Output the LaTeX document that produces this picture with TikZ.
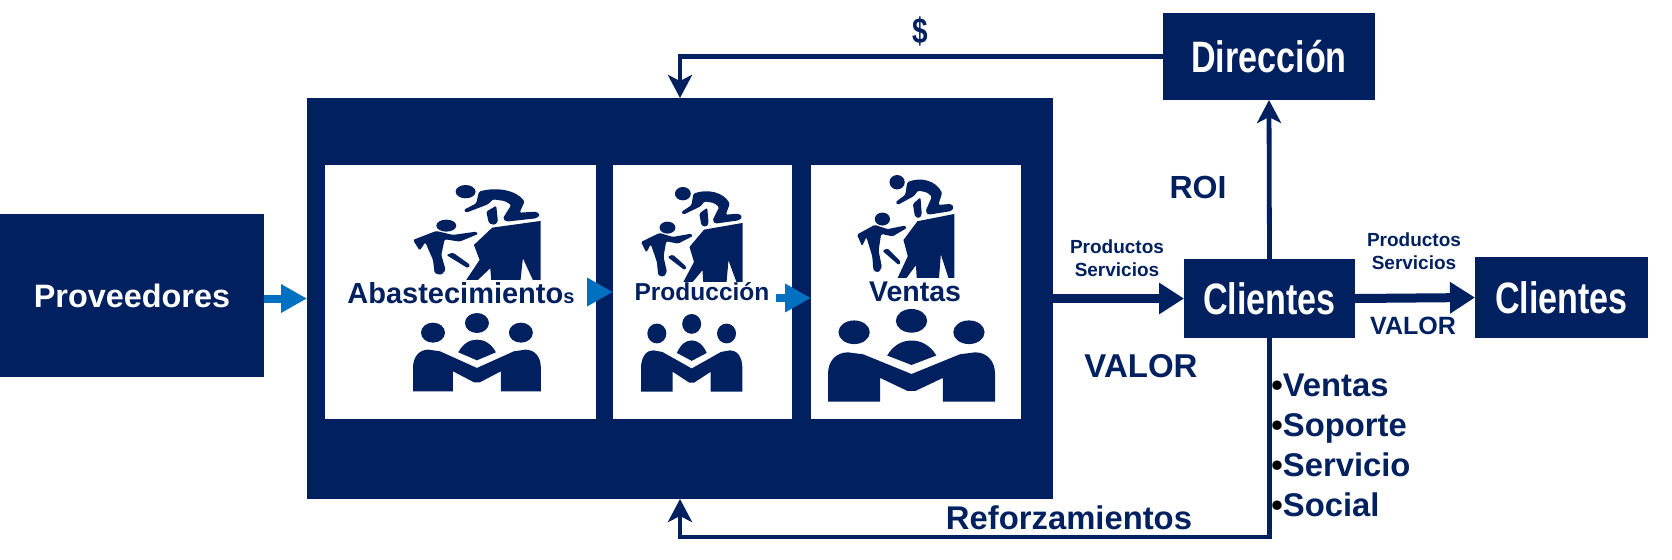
\documentclass[tikz,border=0pt]{standalone}
\usepackage{fontspec}
\setsansfont{Liberation Sans}
\newfontfamily\estrecha[FakeStretch=0.775]{Liberation Sans}
\usetikzlibrary{arrows.meta}
\definecolor{navy}{HTML}{002060}
\definecolor{azul}{HTML}{0070C0}
\tikzset{
    caja/.style={fill=navy, text=white, inner sep=0pt, outer sep=0pt},
    hoja/.style={fill=white, inner sep=0pt, outer sep=0pt},
    txt/.style={text=navy, inner sep=0pt, align=center, font=\sffamily\bfseries\fontsize{#1}{#1}\selectfont},
    tit/.style={inner sep=0pt, font=\estrecha\bfseries\fontsize{22}{22}\selectfont},
    linea/.style={draw=navy, line width=2.4pt, -{Stealth[length=11.5pt,width=12pt,inset=3pt]}},
    flujo/.style={draw=navy, line width=4.5pt, -{Triangle[length=12.5pt,width=15pt]}},
    paso/.style={draw=azul, line width=4pt, -{Triangle[length=13pt,width=13.5pt]}},
    pics/escalada/.style={code={
        \fill[navy] (158,20) ellipse [x radius=30,y radius=20];
        \fill[navy,rounded corners=.7pt] (198,20) .. controls (250,5) and (310,15) .. (335,50) -- (320,83) -- (370,80) -- (382,90) -- (370,100) -- (280,110) -- (270,100) -- (295,60) -- (275,48) -- (240,43) -- (225,58) -- (160,83) -- (152,75) -- (190,55) -- cycle;
        \fill[navy,rounded corners=.7pt] (220,80) -- (250,62) -- (255,110) -- (245,120) -- (228,115) -- cycle;
        \fill[navy] (238,128) -- (383,108) -- (383,285) -- (360,285) -- (330,220) -- (323,285) -- (235,285) -- (232,250) -- (195,285) -- (160,285) -- (200,225) -- (183,180) -- cycle;
        \fill[navy] (100,122) ellipse [x radius=30,y radius=18];
        \fill[navy,rounded corners=.7pt] (0,165) -- (70,138) -- (120,150) -- (190,140) -- (196,147) -- (140,170) -- (95,163) -- (85,210) -- (98,255) -- (85,270) -- (65,265) -- (60,225) -- (37,172) -- (20,197) -- cycle;
        \fill[navy,rounded corners=.7pt] (100,210) -- (120,203) -- (172,240) -- (165,250) -- cycle;
    }},
    pics/reunion/.style={code={
        \foreach \x/\y in {60/59,192/30,324/59}
        \fill[navy] (\x,\y) ellipse [x radius=36,y radius=30];
        \fill[navy] (136,118) .. controls (150,92) and (170,80) .. (192,80) .. controls (214,80) and (235,92) .. (249,118) -- (192,142) -- cycle;
        \fill[navy] (0,235) -- (0,165) .. controls (0,130) and (20,110) .. (46,110) -- (81,115) -- (192,165) -- (303,115) -- (338,110) .. controls (364,110) and (384,130) .. (384,165) -- (384,235) -- (264,235) -- (264,175) -- (201,208) -- (183,208) -- (120,175) -- (120,235) -- cycle;
    }},
}
\begin{document}
\begin{tikzpicture}[x=.5pt,y=-.5pt,font=\sffamily\bfseries]
      \useasboundingbox (0,0) rectangle (1672,559);

      \node[caja,minimum width=132pt,minimum height=81.5pt,font=\sffamily\bfseries\fontsize{16.2}{16.2}\selectfont] (proveedores) at (132,295.5) {Proveedores};
      \node[caja,minimum width=373pt,minimum height=200.5pt] (bloque) at (680,298.5) {};
      \node[hoja,minimum width=135.5pt,minimum height=127pt] (abast) at (460.5,292) {};
      \node[hoja,minimum width=89.5pt,minimum height=127pt] (prod) at (702.5,292) {};
      \node[hoja,minimum width=105pt,minimum height=127pt] (ventas) at (916,292) {};
      \node[caja,tit,minimum width=106pt,minimum height=43.5pt] (direccion) at (1269,56.5) {Dirección};
      \node[caja,tit,minimum width=85.5pt,minimum height=39.5pt] (clientes) at (1269.5,298.5) {Clientes};
      \node[caja,tit,minimum width=86.5pt,minimum height=40.5pt] (finales) at (1561.5,297.5) {Clientes};
      \coordinate (retorno) at (680,537);

      \pic[xscale=.333,yscale=.333] at (413,185) {escalada};
      \pic[xscale=.333,yscale=.333] at (413,313) {reunion};
      \pic[xscale=.265,yscale=.333] at (641,187) {escalada};
      \pic[xscale=.264,yscale=.330] at (641,314) {reunion};
      \pic[xscale=.254,yscale=.361] at (857,175) {escalada};
      \pic[xscale=.435,yscale=.394] at (828,309) {reunion};

      \node[txt=14.5,anchor=west] (abasttxt) at (347,293) {Abastecimiento{\fontsize{10}{10}\selectfont s}};
      \node[txt=12.25] (prodtxt) at (702,292) {Producción};
      \node[txt=14.25] (ventastxt) at (915,292) {Ventas};

      \draw[paso] (proveedores.east |- bloque.west) -- (bloque.west);
      \draw[paso] (abast.east) -- (prod.west);
      \draw[paso] ([shift={(-8pt,-3pt)}]prod.east) -- ([yshift=-3pt]ventas.west);

      \draw[flujo] (bloque.east) -- (clientes.west);
      \draw[flujo] (clientes.east) -- (finales.west);
      \draw[linea] (direccion.west) -| (bloque.north);
      \draw[linea] (clientes.north) -- (direccion.south);
      \draw[linea] (clientes.south) |- (retorno) -- (bloque.south);

      \node[txt=18,font=\estrecha\bfseries\fontsize{18}{18}\selectfont] (dinero) at (920,31) {\$};
      \node[txt=16] (roi) at (1198,187) {ROI};
      \node[txt=16.5] (valor) at (1141,366) {VALOR};
      \node[txt=12.5] (valorb) at (1413,326) {VALOR};
      \node[txt=16.4] (reforz) at (1069,518) {Reforzamientos};
      \node[txt=9.5,font=\sffamily\bfseries\fontsize{9.5}{11.5}\selectfont] (prodserv) at (1117,258) {Productos\\Servicios};
      \node[txt=9.5,font=\sffamily\bfseries\fontsize{9.5}{11.5}\selectfont] (prodservb) at (1414,251) {Productos\\Servicios};

      \foreach \y/\t in {396/Ventas,436/Soporte,476/Servicio,516/Social}
      \node[txt=16.4,anchor=base west] (\t) at (1271,\y) {\textcolor{black}{•}\t};
\end{tikzpicture}
\end{document}
